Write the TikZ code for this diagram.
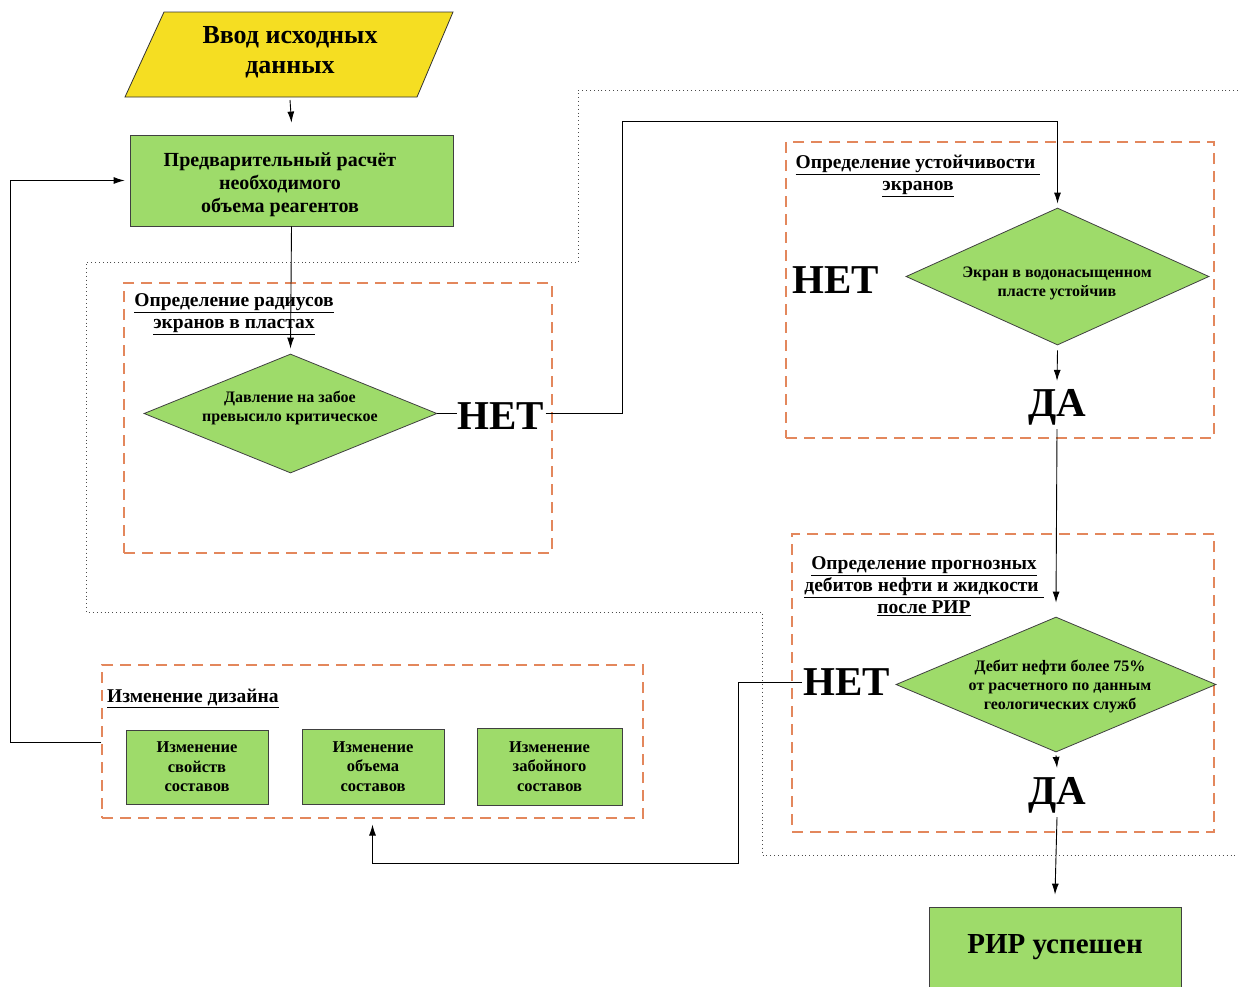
\documentclass[tikz,border=0pt]{standalone}
\usepackage{fontspec}
\setmainfont{Liberation Serif}
\usetikzlibrary{shapes.geometric,arrows.meta}
\definecolor{ylw}{HTML}{F5DE22}
\definecolor{grn}{HTML}{9EDB6A}
\definecolor{org}{HTML}{E3875C}
\tikzset{
  arr/.style={draw=black, line width=0.9pt, -{Latex[length=11pt,width=7pt]}},
  ln/.style={draw=black, line width=0.9pt},
  grp/.style={draw=org, line width=1.1pt, dash pattern=on 11pt off 7pt, inner sep=0pt},
  gbox/.style={draw=black!75, line width=0.8pt, fill=grn, inner sep=0pt, align=center},
  dia/.style={diamond, draw=black!75, fill=grn, inner sep=0pt, line width=0.8pt},
  big/.style={font=\fontsize{41}{41}\selectfont\bfseries, inner sep=1pt},
  ttl/.style={font=\fontsize{19.5}{22}\selectfont\bfseries, align=center, inner sep=0pt},
  dtxt/.style={font=\fontsize{16}{19}\selectfont\bfseries, align=center, inner sep=0pt},
  stxt/.style={font=\fontsize{16.5}{19.5}\selectfont\bfseries},
  dotline/.style={draw=black!70, line width=0.9pt, dash pattern=on 0.9pt off 3pt},
}
\begin{document}
\begin{tikzpicture}[x=1pt,y=-1pt]
\useasboundingbox (0,0) rectangle (1238,986);
\clip (0,0) rectangle (1238,986);
\fill[white] (0,0) rectangle (1238,986);

% dotted region boundary
\draw[dotline] (1238,90) -- (578,90) -- (578,262) -- (86,262) -- (86,612) -- (762,612) -- (762,855) -- (1238,855);

% dashed groups
\node[grp, minimum width=428, minimum height=270] (g1) at (338,418) {};
\node[grp, minimum width=428, minimum height=296] (g2) at (1000,290) {};
\node[grp, minimum width=422, minimum height=298] (g3) at (1003,683) {};
\node[grp, minimum width=541, minimum height=153] (dz) at (372.5,741.5) {};

% group titles
\node[ttl] (t1) at (234,314) {\underline{Определение радиусов}\\\underline{экранов в пластах}};
\node[ttl] (t2) at (918,176) {\underline{Определение устойчивости\ }\\\underline{экранов}};
\node[ttl] (t3) at (924,586) {\underline{Определение прогнозных}\\\underline{дебитов нефти и жидкости\ }\\\underline{после РИР}};
\node[ttl, anchor=west] (t4) at (107,698) {\underline{Изменение дизайна}};

% input parallelogram
\draw[fill=ylw, draw=black!80, line width=0.8pt] (164,12) -- (453,12) -- (417,97) -- (125,97) -- cycle;
\node[font=\fontsize{26}{30}\selectfont\bfseries, align=center] (inp) at (290,52) {Ввод исходных\\данных};
\coordinate (inpb) at (290,100);

% first box
\node[gbox, minimum width=323, minimum height=91] (b1) at (291.5,180.5) {};
\node[font=\fontsize{20}{23}\selectfont\bfseries, align=center, inner sep=0pt] (b1t) at (280,185) {Предварительный расчёт\\необходимого\\объема реагентов};

% diamonds
\node[dia, minimum width=293, minimum height=119] (d1) at (290.5,413.5) {};
\node[dtxt] (d1t) at (290,408) {Давление на забое\\превысило критическое};
\node[dia, minimum width=303, minimum height=137] (d2) at (1057.5,276.5) {};
\node[dtxt] (d2t) at (1057,283) {Экран в водонасыщенном\\пласте устойчив};
\node[dia, minimum width=320, minimum height=135] (d3) at (1056,684.5) {};
\node[dtxt] (d3t) at (1060,686) {Дебит нефти более 75\%\\от расчетного по данным\\геологических служб};

% big labels
\node[big] (net1) at (501,416) {НЕТ};
\node[big] (net2) at (836,280) {НЕТ};
\node[big] (net3) at (846.5,682) {НЕТ};
\node[big] (da2) at (1057,407) {ДА};
\node[big] (da3) at (1057,795) {ДА};

% design boxes
\node[gbox, stxt, minimum width=142, minimum height=74] (sa) at (197,767) {Изменение\\свойств\\составов};
\node[gbox, stxt, minimum width=142, minimum height=75] (sb) at (373,766.5) {Изменение\\объема\\составов};
\node[gbox, stxt, minimum width=145, minimum height=77] (sc) at (549.5,766.5) {Изменение\\забойного\\составов};

% final box
\node[gbox, minimum width=252, minimum height=80, font=\fontsize{29}{30}\selectfont\bfseries] (fin) at (1055,947) {РИР успешен};

% connectors
\coordinate (cA) at (622,121);
\coordinate (cC) at (738,863);
\coordinate (cD) at (10,742);
\draw[arr] (inpb) -- ([yshift=12pt]b1.north);
\draw[arr] (b1.south) -- ([yshift=5pt]d1.north);
\draw[ln] (d1.east) -- (d1.east -| net1.west);
\draw[arr] (d1.east -| net1.east) -| (cA) -| ([yshift=4pt]d2.north);
\draw[arr] ([yshift=-5pt]d2.south) -- ([yshift=7pt]da2.north);
\draw[arr] ([yshift=-3pt]da2.south) -- ([yshift=14pt]d3.north);
\draw[arr] ([yshift=-3pt]d3.south) -- ([yshift=8pt]da3.north);
\draw[arr] ([yshift=-3pt]da3.south) -- ([yshift=12pt]fin.north);
\draw[arr] (net3.west) -| (cC) -| ([yshift=-6pt]dz.south);
\draw[arr] (dz.west |- cD) -- (cD) |- ([xshift=-5pt]b1.west);
\end{tikzpicture}
\end{document}
